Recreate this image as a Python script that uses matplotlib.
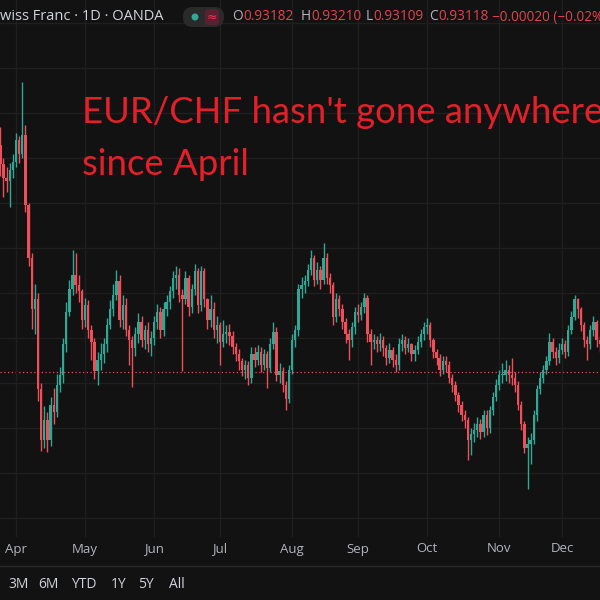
import numpy as np
import pandas as pd
import matplotlib
matplotlib.use("Agg")
import matplotlib.pyplot as plt
from matplotlib.patches import FancyBboxPatch, Circle
from matplotlib.lines import Line2D
from matplotlib.transforms import blended_transform_factory

# EUR/CHF daily candles, prices x 10000 (open of each bar = previous close)
first_open = 9575
close_pips = [
    9565, 9543, 9528, 9524, 9537, 9546, 9570, 9554, 9576, 9498,
    9439, 9382, 9393, 9293, 9237, 9259, 9237, 9276, 9268, 9298,
    9309, 9343, 9379, 9404, 9420, 9409, 9402, 9370, 9387, 9359,
    9346, 9313, 9326, 9332, 9343, 9365, 9382, 9398, 9413, 9370,
    9387, 9359, 9348, 9339, 9354, 9368, 9348, 9359, 9343, 9350,
    9368, 9379, 9359, 9382, 9390, 9402, 9417, 9420, 9398, 9393,
    9417, 9384, 9404, 9424, 9387, 9424, 9393, 9370, 9382, 9359,
    9365, 9346, 9354, 9357, 9352, 9340, 9332, 9324, 9315, 9320,
    9306, 9332, 9326, 9335, 9320, 9332, 9317, 9343, 9357, 9309,
    9313, 9298, 9282, 9315, 9348, 9359, 9404, 9409, 9413, 9426,
    9439, 9415, 9426, 9415, 9439, 9417, 9409, 9373, 9393, 9382,
    9368, 9354, 9348, 9362, 9379, 9376, 9384, 9395, 9354, 9346,
    9348, 9343, 9348, 9339, 9328, 9337, 9326, 9320, 9343, 9348,
    9339, 9343, 9332, 9337, 9346, 9354, 9362, 9365, 9348, 9335,
    9328, 9315, 9324, 9320, 9306, 9298, 9287, 9276, 9265, 9259,
    9237, 9243, 9248, 9254, 9246, 9265, 9250, 9270, 9284, 9298,
    9309, 9309, 9315, 9309, 9306, 9298, 9276, 9254, 9228, 9232,
    9237, 9265, 9293, 9306, 9315, 9324, 9346, 9335, 9328, 9337,
    9343, 9335, 9359, 9373, 9393, 9382, 9365, 9348, 9343, 9359,
    9368, 9348, 9343,
]
high_pips = [
    9585, 9584, 9550, 9540, 9545, 9555, 9578, 9575, 9635, 9587,
    9500, 9445, 9410, 9400, 9300, 9275, 9268, 9285, 9295, 9310,
    9318, 9350, 9390, 9415, 9448, 9445, 9420, 9405, 9395, 9392,
    9365, 9350, 9335, 9345, 9350, 9372, 9392, 9410, 9426, 9420,
    9398, 9395, 9365, 9352, 9362, 9378, 9375, 9365, 9368, 9358,
    9375, 9388, 9385, 9390, 9398, 9408, 9425, 9430, 9428, 9405,
    9425, 9420, 9410, 9432, 9428, 9430, 9428, 9395, 9398, 9390,
    9375, 9368, 9370, 9365, 9366, 9358, 9345, 9338, 9328, 9326,
    9325, 9340, 9340, 9342, 9340, 9338, 9336, 9350, 9368, 9362,
    9322, 9318, 9302, 9320, 9355, 9365, 9410, 9418, 9420, 9432,
    9448, 9442, 9435, 9430, 9456, 9445, 9422, 9412, 9400, 9398,
    9388, 9372, 9360, 9368, 9385, 9388, 9390, 9400, 9398, 9360,
    9355, 9352, 9356, 9352, 9342, 9345, 9340, 9332, 9350, 9355,
    9352, 9350, 9345, 9342, 9352, 9360, 9368, 9372, 9368, 9350,
    9338, 9332, 9330, 9330, 9325, 9310, 9302, 9290, 9280, 9270,
    9262, 9250, 9256, 9262, 9260, 9270, 9270, 9275, 9290, 9305,
    9315, 9322, 9326, 9320, 9328, 9312, 9302, 9280, 9258, 9240,
    9245, 9270, 9298, 9312, 9320, 9330, 9356, 9350, 9340, 9344,
    9350, 9348, 9365, 9380, 9398, 9395, 9385, 9368, 9352, 9365,
    9375, 9370, 9352,
]
low_pips = [
    9555, 9530, 9507, 9512, 9496, 9528, 9540, 9545, 9550, 9490,
    9430, 9360, 9355, 9280, 9225, 9228, 9223, 9230, 9255, 9262,
    9290, 9300, 9335, 9375, 9398, 9400, 9390, 9360, 9362, 9350,
    9326, 9305, 9298, 9315, 9322, 9335, 9360, 9375, 9392, 9362,
    9360, 9352, 9320, 9296, 9330, 9345, 9340, 9338, 9335, 9330,
    9342, 9360, 9350, 9352, 9375, 9382, 9395, 9405, 9390, 9313,
    9388, 9375, 9378, 9398, 9378, 9380, 9385, 9360, 9362, 9350,
    9345, 9320, 9340, 9345, 9342, 9332, 9325, 9315, 9308, 9305,
    9298, 9300, 9318, 9320, 9312, 9315, 9295, 9312, 9338, 9302,
    9300, 9290, 9270, 9278, 9310, 9340, 9352, 9395, 9400, 9408,
    9420, 9408, 9410, 9405, 9410, 9410, 9400, 9365, 9368, 9375,
    9360, 9345, 9326, 9340, 9355, 9368, 9370, 9378, 9346, 9320,
    9338, 9335, 9336, 9330, 9320, 9322, 9318, 9312, 9315, 9336,
    9332, 9334, 9325, 9325, 9332, 9340, 9348, 9355, 9340, 9328,
    9320, 9308, 9310, 9312, 9300, 9290, 9280, 9268, 9258, 9250,
    9215, 9220, 9235, 9240, 9238, 9240, 9242, 9245, 9265, 9280,
    9292, 9300, 9302, 9300, 9298, 9290, 9270, 9248, 9222, 9182,
    9210, 9232, 9258, 9288, 9300, 9310, 9320, 9328, 9320, 9322,
    9332, 9328, 9330, 9355, 9370, 9372, 9358, 9340, 9326, 9338,
    9352, 9340, 9335,
]
dates = pd.bdate_range("2025-03-24", periods=len(close_pips))

symbol = "wiss Franc \u00b7 1D \u00b7 OANDA"
ohlc_names = ["O", "H", "L", "C"]
ohlc_values = ["0.93182", "0.93210", "0.93109", "0.93118"]
change = "\u22120.00020 (\u22120.02%)"
last_price = 0.93118
title = ["EUR/CHF hasn't gone anywhere", "since April"]
ranges = ["3M", "6M", "YTD", "1Y", "5Y", "All"]

BG = "#121212"
GRID = "#1f1f1f"
UP = "#2fa896"
DOWN = "#ee4f58"
TXT = "#d1d4dc"
UI = "Open Sans"

close = np.array(close_pips) / 1e4
high = np.array(high_pips) / 1e4
low = np.array(low_pips) / 1e4
opens = np.r_[first_open, close_pips[:-1]] / 1e4
x = np.arange(len(close))
colors = np.where(close >= opens, UP, DOWN)

W = H = 600.0
def fx(px):
    return px / W
def fy(py):
    return 1 - py / H

fig = plt.figure(figsize=(6, 6), dpi=100, facecolor=BG)
ax = fig.add_axes([0, fy(537), 1, 537 / H])
ax.set_facecolor(BG)
ax.set_xlim(0.89, 192.1)
ax.set_ylim(0.91289, 0.97256)

month_idx = np.flatnonzero(dates.month[1:] != dates.month[:-1]) + 1
ax.set_xticks(month_idx)
ax.set_yticks(np.arange(0.915, 0.9701, 0.005))
ax.grid(True, color=GRID, lw=1)
ax.tick_params(length=0, labelbottom=False, labelleft=False)
for s in ax.spines.values():
    s.set_visible(False)

# candles
ax.axhline(last_price, color=DOWN, lw=0.9, ls=(0, (1, 2)), zorder=1.5)
ax.vlines(x, low, high, colors=colors, lw=1.0, zorder=2)
ax.bar(x, np.maximum(np.abs(close - opens), 0.00008), bottom=np.minimum(opens, close),
       width=0.74, color=colors, lw=0, zorder=3)

# time axis
trans = blended_transform_factory(ax.transData, fig.transFigure)
for i in month_idx:
    ax.text(i, fy(549), dates[i].strftime("%b"), transform=trans, ha="center", va="center",
            color="#b2b5be", fontsize=9.5, family=UI, clip_on=False)
fig.add_artist(Line2D([0, 1], [fy(566)] * 2, color="#2a2a2a", lw=1))
for s, px in zip(ranges, [8, 38, 71, 111, 138, 169]):
    fig.text(fx(px), fy(585), s, va="center", color=TXT, fontsize=10, family=UI)

# header
fig.canvas.draw()
r = fig.canvas.get_renderer()
fig.text(0, fy(17), symbol, va="center", color=TXT, fontsize=10.5, family=UI)
fig.add_artist(FancyBboxPatch((fx(183), fy(27)), 41 / W, 20 / H, boxstyle="round,pad=0,rounding_size=0.016",
                              transform=fig.transFigure, fc="#2a2a2a", ec="none"))
fig.add_artist(Circle((fx(195), fy(17)), 3.5 / W, transform=fig.transFigure, fc=UP, ec="none"))
fig.add_artist(FancyBboxPatch((fx(205), fy(25)), 14 / W, 16 / H, boxstyle="round,pad=0,rounding_size=0.006",
                              transform=fig.transFigure, fc="#5b1f33", ec="none"))
fig.text(fx(212), fy(17), "\u2248", ha="center", va="center", color="#f23645", fontsize=9)
for name, val, px in zip(ohlc_names, ohlc_values, [232, 301, 366, 429]):
    t = fig.text(fx(px), fy(17), name, va="center", color="#b2b5be", fontsize=9.8, family=UI)
    w = t.get_window_extent(r).width
    fig.text(fx(px + w + 0.5), fy(17), val, va="center", color="#e5434e", fontsize=9.8, family=UI)
fig.text(fx(492), fy(17), change, va="center", color="#e5434e", fontsize=9.8, family=UI)

# annotation: the visible part "...anywher" ends near x=583 px
t1 = fig.text(fx(82), fy(123), title[0][:-1], fontsize=30, color="#e3202a", va="baseline", family="Lato")
fs = 30 * 501 / t1.get_window_extent(r).width
t1.set_fontsize(fs)
t1.set_text(title[0])
fig.text(fx(82), fy(175), title[1], fontsize=fs, color="#e3202a", va="baseline", family="Lato")

fig.savefig("out.png", dpi=100, facecolor=BG)
